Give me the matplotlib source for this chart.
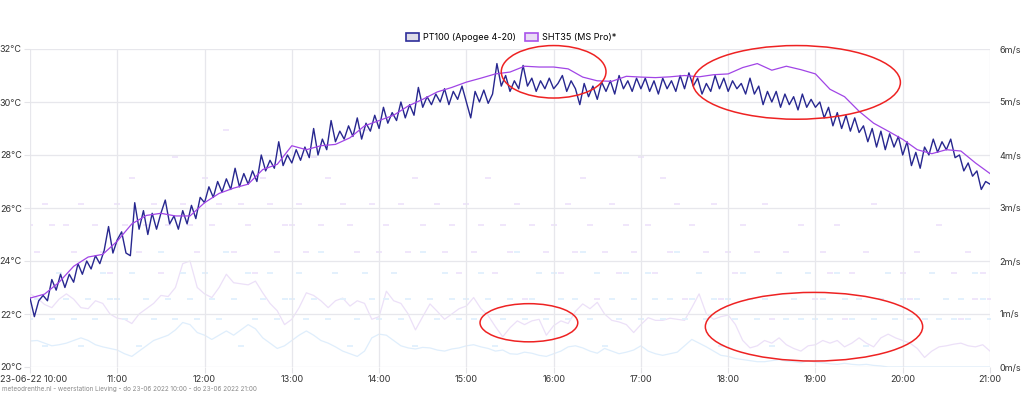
import pandas as pd
import matplotlib
matplotlib.use('Agg')
import matplotlib.pyplot as plt
import matplotlib.dates as mdates
from matplotlib.patches import Ellipse, Patch
from matplotlib.transforms import ScaledTranslation

plt.rcParams['font.family'] = ['Inter', 'DejaVu Sans']

# PT100 (Apogee 4-20), every 3 minutes 10:00 - 21:00, degC
pt100 = [22.6, 21.9, 22.5, 22.7, 22.5, 23.3, 22.9, 23.5, 23.0, 23.5, 23.2, 23.9, 23.5, 24.0, 23.7, 24.2, 23.9, 24.4, 25.3, 24.3,
         24.8, 25.1, 24.3, 24.2, 26.2, 25.2, 25.9, 25.0, 25.8, 25.2, 25.8, 26.3, 25.4, 25.7, 25.2, 25.9, 25.4, 26.1, 25.6, 26.4,
         26.2, 26.8, 26.4, 27.0, 26.6, 27.1, 26.7, 27.5, 26.8, 27.3, 26.9, 27.4, 27.0, 28.0, 27.4, 27.8, 27.5, 28.5, 27.6, 28.0,
         27.7, 28.2, 27.8, 28.3, 27.9, 29.0, 28.0, 28.6, 28.2, 29.3, 28.5, 28.9, 28.6, 29.1, 28.7, 29.4, 28.6, 29.2, 28.9, 29.5,
         29.0, 29.8, 29.2, 29.6, 29.3, 30.0, 29.4, 29.9, 29.5, 30.55, 29.8, 30.2, 29.9, 30.3, 30.0, 30.5, 29.9, 30.4, 30.1, 30.6,
         30.0, 29.4, 30.4, 30.0, 30.45, 29.95, 30.3, 31.45, 30.6, 31.0, 30.4, 30.8, 30.5, 31.38, 30.6, 30.9, 30.4, 30.8, 30.5, 30.9,
         30.5, 30.7, 31.0, 30.4, 30.8, 30.5, 29.9, 30.7, 30.2, 30.6, 30.1, 30.75, 30.4, 30.8, 30.3, 31.0, 30.5, 30.8, 30.4, 30.9,
         30.5, 30.9, 30.4, 30.8, 30.3, 30.9, 30.5, 30.8, 30.4, 31.0, 30.5, 31.1, 30.6, 30.9, 30.3, 30.7, 30.4, 31.0, 30.5, 30.9,
         30.4, 30.8, 30.5, 30.7, 30.3, 30.9, 30.3, 30.6, 29.9, 30.4, 30.0, 30.4, 29.8, 30.3, 29.9, 30.2, 29.7, 30.3, 29.8, 30.1,
         29.8, 30.0, 29.4, 29.8, 29.1, 29.6, 29.0, 29.5, 28.9, 29.4, 28.85, 29.1, 28.5, 29.0, 28.3, 28.9, 28.2, 28.8, 28.3, 28.7,
         28.0, 28.5, 27.6, 28.1, 27.5, 28.3, 28.0, 28.6, 28.1, 28.5, 28.2, 28.6, 27.9, 28.0, 27.4, 27.7, 27.2, 27.4, 26.7, 27.0,
         26.9]

# SHT35 (MS Pro), every 10 minutes
sht35 = [22.6, 22.75, 23.2, 23.8, 24.15, 24.25,
         24.75, 25.4, 25.72, 25.8, 25.7, 25.7,
         26.2, 26.55, 26.75, 26.9, 27.45, 27.65,
         28.35, 28.2, 28.35, 28.4, 28.65, 29.1,
         29.3, 29.5, 29.85, 30.1, 30.38, 30.55,
         30.75, 30.9, 31.06, 31.13, 31.35, 31.32,
         31.32, 31.25, 30.94, 30.8, 30.78, 30.97,
         30.94, 30.92, 30.95, 31.0, 30.95, 31.03,
         31.06, 31.3, 31.45, 31.2, 31.35, 31.22,
         31.06, 30.48, 30.2, 29.65, 29.2, 28.9,
         28.59, 28.2, 28.05, 28.2, 28.15, 27.7,
         27.3]

# wind gust / average wind, every 5 minutes, m/s
gust = [1.38, 1.3, 1.18, 1.12, 1.28, 1.38, 1.28, 1.12, 1.1, 1.25, 1.2, 1.0,
        0.92, 0.9, 0.82, 1.0, 1.1, 1.2, 1.35, 1.33, 1.5, 1.95, 2.0, 1.5,
        1.38, 1.31, 1.5, 1.75, 1.59, 1.57, 1.55, 1.62, 1.4, 1.2, 1.06, 0.8,
        0.9, 1.12, 1.4, 1.35, 1.25, 1.12, 1.25, 1.3, 1.15, 1.25, 1.2, 0.9,
        0.95, 1.43, 1.25, 1.2, 1.0, 0.7, 0.95, 1.19, 1.05, 0.9, 1.0, 1.1,
        1.15, 1.31, 1.1, 0.97, 0.76, 0.57, 0.74, 0.87, 0.8, 0.87, 0.9, 0.6,
        0.78, 0.87, 0.82, 1.05, 1.19, 1.1, 1.22, 1.0, 0.88, 0.85, 0.8, 0.65,
        0.8, 0.93, 0.88, 0.88, 0.92, 0.9, 0.88, 1.12, 1.38, 1.0, 0.9, 0.95,
        0.98, 0.8, 0.5, 0.36, 0.4, 0.5, 0.45, 0.55, 0.42, 0.35, 0.3, 0.4,
        0.42, 0.5, 0.45, 0.5, 0.38, 0.45, 0.55, 0.45, 0.38, 0.55, 0.62, 0.55,
        0.5, 0.45, 0.35, 0.18, 0.3, 0.38, 0.4, 0.43, 0.45, 0.4, 0.38, 0.42,
        0.3]
wind = [0.49, 0.5, 0.45, 0.4, 0.42, 0.45, 0.5, 0.55, 0.5, 0.42, 0.38, 0.35,
        0.32, 0.25, 0.2, 0.3, 0.4, 0.5, 0.55, 0.6, 0.7, 0.84, 0.8, 0.65,
        0.6, 0.52, 0.6, 0.68, 0.6, 0.7, 0.8, 0.72, 0.55, 0.45, 0.35, 0.4,
        0.5, 0.6, 0.68, 0.6, 0.5, 0.45, 0.38, 0.3, 0.25, 0.2, 0.3, 0.55,
        0.62, 0.6, 0.5, 0.4, 0.36, 0.34, 0.37, 0.36, 0.32, 0.3, 0.34, 0.36,
        0.4, 0.42, 0.38, 0.35, 0.3, 0.32, 0.25, 0.24, 0.28, 0.26, 0.22, 0.2,
        0.25, 0.3, 0.38, 0.4, 0.36, 0.3, 0.26, 0.35, 0.3, 0.25, 0.28, 0.32,
        0.4, 0.3, 0.25, 0.22, 0.25, 0.28, 0.4, 0.52, 0.45, 0.38, 0.3, 0.22,
        0.2, 0.16, 0.14, 0.12, 0.1, 0.1, 0.12, 0.14, 0.11, 0.1, 0.08, 0.12,
        0.09, 0.08, 0.06, 0.05, 0.07, 0.05, 0.04, 0.05, 0.03, 0.02, 0.0, 0.0,
        0.0, 0.0, 0.0, 0.0, 0.0, 0.0, 0.0, 0.0, 0.0, 0.0, 0.0, 0.0,
        0.0]

# faint direction dashes: row index per 5 minutes
dir_levels = [0.40, 0.91, 1.28, 1.77, 2.17, 2.68, 3.08, 3.57, 3.96, 4.47, 4.87, 5.36]
gust_dir = [5, 4, 6, 5, 3, 5, 4, 6, 2, 5, 4, 3,
            6, 5, 7, 4, 5, 6, 3, 5, 8, 6, 5, 4,
            7, 5, 6, 9, 4, 6, 5, 3, 7, 6, 4, 5,
            5, 6, 4, 8, 5, 7, 3, 6, 5, 4, 9, 6,
            4, 5, 3, 6, 4, 7, 5, 2, 6, 4, 5, 3,
            6, 4, 5, 7, 3, 5, 4, 6, 2, 5, 3, 4,
            5, 3, 6, 4, 7, 5, 2, 4, 6, 3, 5, 4,
            8, 5, 3, 7, 4, 6, 2, 5, 3, 4, 6, 2,
            4, 3, 5, 2, 4, 6, 1, 3, 4, 2, 5, 3,
            2, 4, 3, 5, 1, 3, 2, 4, 6, 2, 3, 1,
            3, 2, 4, 1, 3, 5, 2, 3, 1, 4, 2, 3,
            2]
wind_dir = [1, 2, 0, 1, 3, 2, 1, 0, 2, 1, 3, 2,
            2, 1, 3, 0, 2, 1, 4, 2, 1, 3, 2, 1,
            3, 2, 1, 4, 2, 0, 3, 1, 2, 3, 1, 2,
            2, 3, 1, 2, 4, 1, 3, 2, 0, 1, 3, 2,
            1, 2, 3, 1, 2, 0, 4, 2, 1, 3, 2, 1,
            2, 1, 3, 2, 0, 1, 2, 4, 1, 2, 3, 1,
            3, 2, 1, 2, 4, 1, 3, 0, 2, 1, 3, 2,
            1, 3, 2, 1, 2, 4, 1, 2, 3, 1, 2, 0,
            2, 1, 3, 2, 1, 2, 0, 3, 1, 2, 1, 3,
            1, 2, 1, 3, 2, 1, 2, 0, 1, 2, 3, 1,
            2, 1, 2, 1, 3, 1, 2, 1, 2, 1, 3, 2,
            1]

# red highlight ellipses: (centre time, centre degC, width hours, height degC)
circles = [('2022-06-23 16:00', 31.14, 1.20, 1.98),
           ('2022-06-23 18:47', 30.74, 2.38, 2.78),
           ('2022-06-23 15:43', 21.67, 1.12, 1.44),
           ('2022-06-23 18:59', 21.52, 2.49, 2.59)]

t3 = pd.date_range('2022-06-23 10:00', '2022-06-23 21:00', freq='3min')
t5 = pd.date_range('2022-06-23 10:00', '2022-06-23 21:00', freq='5min')
t10 = pd.date_range('2022-06-23 10:00', '2022-06-23 21:00', freq='10min')

fig = plt.figure(figsize=(10.24, 3.94), dpi=100)
ax = fig.add_axes([30/1024, 1 - 367/394, 960/1024, 318/394])
ax2 = ax.twinx()
ax.set_zorder(ax2.get_zorder() + 1)
ax.patch.set_visible(False)

# wind (faint background)
ax2.plot(t5, gust, color='#ece0f8', lw=0.9)
ax2.plot(t5, wind, color='#dfeefc', lw=0.9)
ax2.plot(t5, [dir_levels[i] for i in gust_dir], ls='none', marker='_', ms=5, mew=1.4, color='#f0e6fb')
ax2.plot(t5, [dir_levels[i] for i in wind_dir], ls='none', marker='_', ms=5, mew=1.4, color='#e3f1fd')
ax2.set_ylim(0, 6)
ax2.set_yticks(range(0, 7))
ax2.set_yticklabels([f'{v}m/s' for v in range(0, 7)])
ax2.tick_params(axis='y', length=0, pad=7, labelsize=6.5, labelcolor='#333333')

# temperature
ax.plot(t3, pt100, color='#27278f', lw=1.0, zorder=3)
ax.plot(t10, sht35, color='#a145e6', lw=0.9, zorder=4)
ax.set_ylim(20, 32)
ax.set_yticks(range(20, 33, 2))
ax.set_yticklabels([f'{v}°C' for v in range(20, 33, 2)])

hours = pd.date_range('2022-06-23 10:00', '2022-06-23 21:00', freq='1h')
ax.set_xlim(hours[0], hours[-1])
ax.set_xticks(hours)
ax.set_xticklabels([h.strftime('%d-%m-%y %H:%M') if i == 0 else h.strftime('%H:%M')
                    for i, h in enumerate(hours)])
ax.tick_params(axis='both', length=4, color='#e4e4e8', labelsize=6.5, labelcolor='#333333', pad=2)
first = ax.get_xticklabels()[0]
first.set_transform(first.get_transform() + ScaledTranslation(4/100, 0, fig.dpi_scale_trans))
ax.grid(True, color='#e7e7ec', lw=0.9)
for a in (ax, ax2):
    for s in a.spines.values():
        s.set_visible(False)

for tc, yc, w, h in circles:
    ax.add_patch(Ellipse((mdates.date2num(pd.Timestamp(tc)), yc), w / 24, h,
                         fill=False, edgecolor='#ee2222', lw=1.1, zorder=6, clip_on=False))

handles = [Patch(facecolor='#dedde8', edgecolor='#2e2e99', lw=1.2, label='PT100 (Apogee 4-20)'),
           Patch(facecolor='#e9dcf5', edgecolor='#a852ea', lw=1.2, label='SHT35 (MS Pro)*')]
fig.legend(handles=handles, loc='center', bbox_to_anchor=(0.499, 0.904), ncol=2, frameon=False,
           fontsize=6.5, handlelength=1.5, handleheight=0.9, handletextpad=0.4, columnspacing=1.0)

fig.text(0.002, 1 - 389/394, 'meteodrenthe.nl - weerstation Lieving - do 23-06 2022 10:00 - do 23-06 2022 21:00',
         fontsize=4.6, color='#8a8a8a', va='center')

fig.savefig('out.png', dpi=100)
